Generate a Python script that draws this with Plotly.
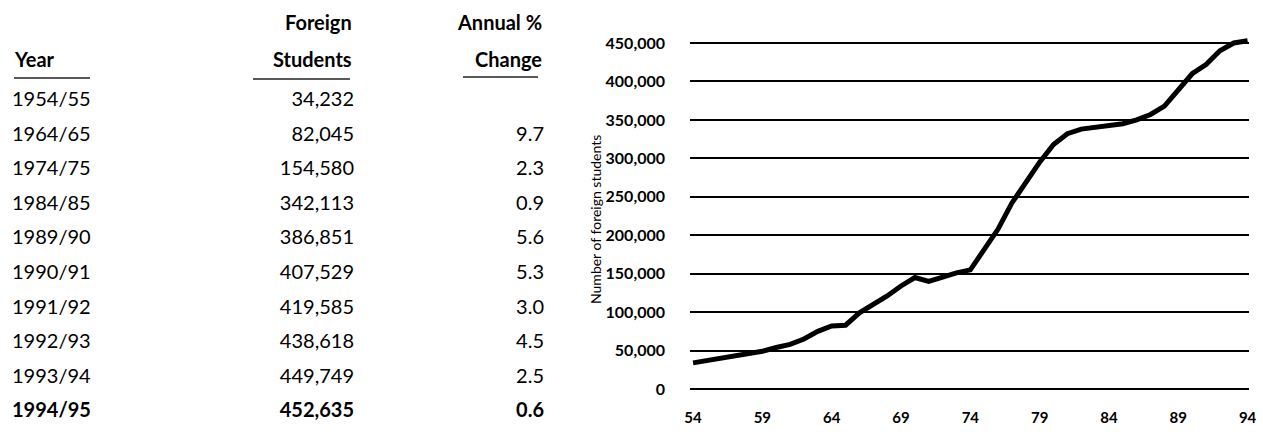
import plotly.graph_objects as go

# ---------------- data ----------------
years = ["1954/55", "1964/65", "1974/75", "1984/85", "1989/90",
         "1990/91", "1991/92", "1992/93", "1993/94", "1994/95"]
students = ["34,232", "82,045", "154,580", "342,113", "386,851",
            "407,529", "419,585", "438,618", "449,749", "452,635"]
annual_change = ["", "9.7", "2.3", "0.9", "5.6", "5.3", "3.0", "4.5", "2.5", "0.6"]

series_years = list(range(54, 95))
series_values = [34000, 37000, 41000, 44000, 47000, 49000, 54000, 58000, 65000, 75000,
                 82000, 83000, 99000, 110000, 121000, 134000, 145000, 140000, 146000, 151000,
                 155000, 181000, 208000, 242000, 270000, 295000, 318000, 332000, 338000, 340000,
                 342000, 345000, 350000, 357000, 368000, 390000, 410000, 422000, 440000, 450000,
                 453000]

x_ticks = [54, 59, 64, 69, 74, 79, 84, 89, 94]
y_ticks = [0, 50000, 100000, 150000, 200000, 250000, 300000, 350000, 400000, 450000]

# ---------------- layout helpers (pixels) ----------------
W, H = 1263, 432
FONT = "Lato"
px_left, px_right = 690, 1249
y0_px, ytop_px = 389, 43          # pixel rows of 0 and 450,000
per = (y0_px - ytop_px) / 450000.0
yr = [-10000, 462000]
dom_bottom = (H - (y0_px + (0 - yr[0]) * per)) / H
dom_top = (H - (ytop_px - (yr[1] - 450000) * per)) / H

fig = go.Figure()

# line chart
fig.add_trace(go.Scatter(
    x=series_years, y=series_values, mode="lines",
    line=dict(color="black", width=5), hoverinfo="skip", showlegend=False,
    xaxis="x", yaxis="y"))

# table cells (table axes measured in pixels)
row0, row_step = 101, 34.6
row_y = [row0 + i * row_step for i in range(len(years))]
last = len(years) - 1

def fmt(vals):
    return [f"<b>{v}</b>" if i == last else v for i, v in enumerate(vals)]

cell_font = dict(family=FONT, size=20, color="black")
fig.add_trace(go.Scatter(
    x=[12] * len(years), y=row_y, text=fmt(years), mode="text",
    textposition="middle right", textfont=cell_font, cliponaxis=False,
    hoverinfo="skip", showlegend=False, xaxis="x2", yaxis="y2"))
fig.add_trace(go.Scatter(
    x=[354] * len(students), y=row_y, text=fmt(students), mode="text",
    textposition="middle left", textfont=cell_font, cliponaxis=False,
    hoverinfo="skip", showlegend=False, xaxis="x2", yaxis="y2"))
fig.add_trace(go.Scatter(
    x=[544] * len(annual_change), y=row_y, text=fmt(annual_change), mode="text",
    textposition="middle left", textfont=cell_font, cliponaxis=False,
    hoverinfo="skip", showlegend=False, xaxis="x2", yaxis="y2"))

head_font = dict(family=FONT, size=20, color="black", weight="bold")
annotations = [
    dict(text="Foreign", x=354, y=22, xanchor="right", yanchor="middle"),
    dict(text="Students", x=354, y=59, xanchor="right", yanchor="middle"),
    dict(text="Annual %", x=544, y=22, xanchor="right", yanchor="middle"),
    dict(text="Change", x=544, y=59, xanchor="right", yanchor="middle"),
    dict(text="Year", x=12, y=59, xanchor="left", yanchor="middle"),
]
for a in annotations:
    a.update(xref="x2", yref="y2", showarrow=False, font=head_font)

annotations.append(dict(
    text="Number of foreign students", xref="paper", yref="paper",
    x=595 / W, y=1 - 220 / H, textangle=-90, showarrow=False,
    xanchor="center", yanchor="middle",
    font=dict(family=FONT, size=14, color="black")))

shapes = []
for x0, x1, yy in [(14, 90, 78), (253, 350, 79), (463, 538, 77)]:
    shapes.append(dict(type="line", xref="x2", yref="y2", x0=x0, x1=x1, y0=yy, y1=yy,
                       line=dict(color="#222", width=1.3)))

fig.update_layout(
    width=W, height=H, margin=dict(l=0, r=0, t=0, b=0),
    paper_bgcolor="white", plot_bgcolor="white",
    showlegend=False, annotations=annotations, shapes=shapes,
    xaxis=dict(domain=[px_left / W, px_right / W], range=[53.78, 94.1],
               tickvals=x_ticks, ticktext=[str(v) for v in x_ticks],
               showgrid=False, zeroline=False, showline=False, ticks="",
               ticklabelstandoff=10, automargin=False,
               tickfont=dict(family=FONT, size=15, color="black", weight="bold")),
    yaxis=dict(domain=[dom_bottom, dom_top], range=yr, tickvals=y_ticks,
               tickformat=",d", showgrid=True, gridcolor="black", gridwidth=1.5,
               zeroline=False, showline=False, ticks="", ticklabelstandoff=24,
               automargin=False,
               tickfont=dict(family=FONT, size=16, color="black", weight="bold")),
    xaxis2=dict(domain=[0, 600 / W], range=[0, 600], visible=False, fixedrange=True,
                anchor="y2"),
    yaxis2=dict(domain=[0, 1], range=[H, 0], visible=False, fixedrange=True,
                anchor="x2"),
)

fig.write_html("out.html", config={"displayModeBar": False},
               post_script="document.body.style.margin='0';document.body.style.overflow='hidden';")
